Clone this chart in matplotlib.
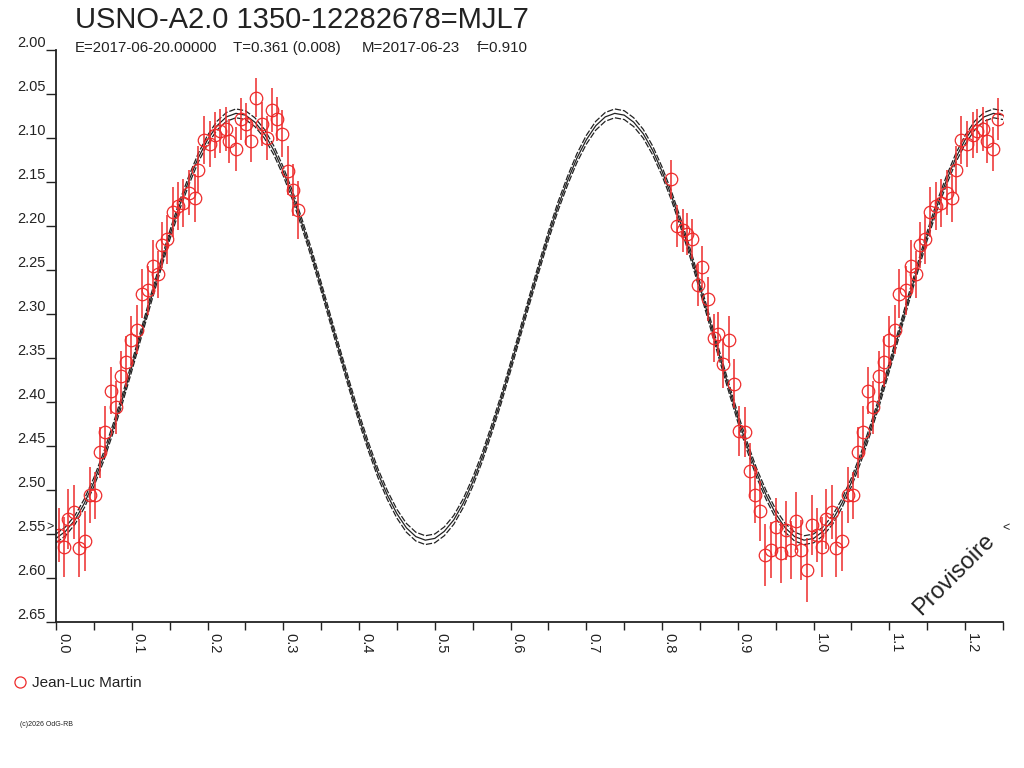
import numpy as np
import matplotlib
matplotlib.use("Agg")
import matplotlib.pyplot as plt
from matplotlib.lines import Line2D

plt.rcParams['font.family'] = ['Liberation Sans', 'DejaVu Sans']

# photometrie (phase, magnitude, erreur)
phase = [0.004, 0.011, 0.016, 0.024, 0.030, 0.038, 0.045, 0.052, 0.058, 0.065,
         0.072, 0.079, 0.086, 0.093, 0.099, 0.107, 0.113, 0.122, 0.128, 0.135,
         0.140, 0.147, 0.154, 0.161, 0.168, 0.176, 0.183, 0.188, 0.195, 0.203,
         0.210, 0.216, 0.224, 0.229, 0.237, 0.244, 0.251, 0.257, 0.264, 0.272,
         0.278, 0.285, 0.292, 0.298, 0.306, 0.313, 0.320,
         0.812, 0.820, 0.827, 0.833, 0.840, 0.847, 0.853, 0.861, 0.868, 0.874,
         0.881, 0.888, 0.895, 0.902, 0.909, 0.916, 0.922, 0.929, 0.936, 0.944,
         0.950, 0.957, 0.963, 0.970, 0.977, 0.984, 0.991, 0.998]
mag = [2.551, 2.565, 2.533, 2.525, 2.566, 2.558, 2.506, 2.506, 2.457, 2.434,
       2.387, 2.406, 2.371, 2.354, 2.330, 2.318, 2.277, 2.273, 2.246, 2.255,
       2.222, 2.215, 2.184, 2.177, 2.174, 2.162, 2.168, 2.136, 2.102, 2.107,
       2.097, 2.092, 2.090, 2.103, 2.112, 2.078, 2.084, 2.103, 2.054, 2.084,
       2.100, 2.068, 2.078, 2.095, 2.137, 2.159, 2.182,
       2.147, 2.200, 2.205, 2.209, 2.215, 2.267, 2.247, 2.283, 2.327, 2.323,
       2.357, 2.329, 2.379, 2.433, 2.434, 2.478, 2.506, 2.524, 2.574, 2.568,
       2.542, 2.572, 2.546, 2.568, 2.535, 2.568, 2.591, 2.540]
err = [0.031, 0.034, 0.034, 0.031, 0.033, 0.034, 0.032, 0.027, 0.029, 0.029,
       0.027, 0.030, 0.029, 0.029, 0.028, 0.028, 0.028, 0.028, 0.030, 0.027,
       0.026, 0.028, 0.028, 0.027, 0.027, 0.026, 0.027, 0.027, 0.027, 0.026,
       0.026, 0.025, 0.025, 0.025, 0.025, 0.024, 0.024, 0.024, 0.022, 0.025,
       0.025, 0.025, 0.025, 0.027, 0.028, 0.030, 0.033,
       0.022, 0.024, 0.024, 0.024, 0.023, 0.024, 0.024, 0.025, 0.027, 0.025,
       0.027, 0.027, 0.028, 0.028, 0.028, 0.031, 0.032, 0.034, 0.035, 0.032,
       0.033, 0.034, 0.034, 0.033, 0.033, 0.034, 0.036, 0.034]

# courbe ajustee, lue tous les 0.0125 en phase
courbe_phase = [0.0000, 0.0125, 0.0250, 0.0375, 0.0500, 0.0625, 0.0750, 0.0875, 0.1000, 0.1125,
                0.1250, 0.1375, 0.1500, 0.1625, 0.1750, 0.1875, 0.2000, 0.2125, 0.2250, 0.2375,
                0.2500, 0.2625, 0.2750, 0.2875, 0.3000, 0.3125, 0.3250, 0.3375, 0.3500, 0.3625,
                0.3750, 0.3875, 0.4000, 0.4125, 0.4250, 0.4375, 0.4500, 0.4625, 0.4750, 0.4875,
                0.5000, 0.5125, 0.5250, 0.5375, 0.5500, 0.5625, 0.5750, 0.5875, 0.6000, 0.6125,
                0.6250, 0.6375, 0.6500, 0.6625, 0.6750, 0.6875, 0.7000, 0.7125, 0.7250, 0.7375,
                0.7500, 0.7625, 0.7750, 0.7875, 0.8000, 0.8125, 0.8250, 0.8375, 0.8500, 0.8625,
                0.8750, 0.8875, 0.9000, 0.9125, 0.9250, 0.9375, 0.9500, 0.9625, 0.9750, 0.9875,
                1.0000, 1.0125, 1.0250, 1.0375, 1.0500, 1.0625, 1.0750, 1.0875, 1.1000, 1.1125,
                1.1250, 1.1375, 1.1500, 1.1625, 1.1750, 1.1875, 1.2000, 1.2125, 1.2250, 1.2375,
                1.2500]
courbe_mag = [2.555, 2.547, 2.534, 2.515, 2.491, 2.463, 2.431, 2.397, 2.360, 2.322,
              2.284, 2.247, 2.211, 2.178, 2.149, 2.123, 2.102, 2.086, 2.076, 2.072,
              2.074, 2.082, 2.095, 2.114, 2.138, 2.166, 2.198, 2.232, 2.269, 2.307,
              2.345, 2.382, 2.418, 2.451, 2.481, 2.506, 2.527, 2.543, 2.553, 2.557,
              2.555, 2.547, 2.534, 2.515, 2.491, 2.463, 2.431, 2.397, 2.360, 2.322,
              2.284, 2.247, 2.211, 2.178, 2.149, 2.123, 2.102, 2.086, 2.076, 2.072,
              2.074, 2.082, 2.095, 2.114, 2.138, 2.166, 2.198, 2.232, 2.269, 2.307,
              2.345, 2.382, 2.418, 2.451, 2.481, 2.506, 2.527, 2.543, 2.553, 2.557,
              2.555, 2.547, 2.534, 2.515, 2.491, 2.463, 2.431, 2.397, 2.360, 2.322,
              2.284, 2.247, 2.211, 2.178, 2.149, 2.123, 2.102, 2.086, 2.076, 2.072,
              2.074]
courbe_sigma = 0.005

rouge = '#ee2b2b'
gris = '#222222'

fig = plt.figure(figsize=(10.24, 7.68), dpi=100)
ax = fig.add_axes([56/1024, 1-622/768, (1003-56)/1024, (622-50)/768])

cp = np.array(courbe_phase)
cm = np.array(courbe_mag)
ax.plot(cp, cm, color=gris, lw=0.9)
ax.plot(cp, cm - courbe_sigma, color=gris, lw=0.9, ls=(0, (5, 1.5)))
ax.plot(cp, cm + courbe_sigma, color=gris, lw=0.9, ls=(0, (5, 1.5)))

ph = np.array(phase)
mg = np.array(mag)
er = np.array(err)
m2 = ph + 1 <= 1.25
ph_all = np.concatenate([ph, ph[m2] + 1])
mg_all = np.concatenate([mg, mg[m2]])
er_all = np.concatenate([er, er[m2]])
ax.errorbar(ph_all, mg_all, yerr=er_all, fmt='o', mfc='none', mec=rouge,
            ecolor=rouge, elinewidth=1.1, capsize=0, ms=9, mew=0.9)

ax.set_xlim(0, 1.25)
ax.set_ylim(2.65, 2.00)
for s in ['top', 'right']:
    ax.spines[s].set_visible(False)
for s in ['left', 'bottom']:
    ax.spines[s].set_linewidth(1.3)
    ax.spines[s].set_color(gris)

yt = np.arange(2.00, 2.651, 0.05)
ax.set_yticks(yt)
ax.set_yticklabels(["%.2f" % v for v in yt])
ax.tick_params(axis='y', direction='out', length=7, width=1, pad=0.5,
               labelsize=10.5, colors=gris)
for lbl in ax.get_yticklabels():
    lbl.set_verticalalignment('bottom')

xt = np.arange(0, 1.2501, 0.1)
ax.set_xticks(xt)
ax.set_xticklabels(["%.1f" % v for v in xt], rotation=-90, ha='left', va='top')
ax.set_xticks(np.arange(0.05, 1.2501, 0.1), minor=True)
ax.tick_params(axis='x', which='both', direction='out', length=6, width=1,
               pad=2, labelsize=10.5, colors=gris)

ax.text(-0.003, 2.542, '>', ha='right', va='center', fontsize=9, color=gris, clip_on=False)
ax.text(1.254, 2.543, '<', ha='center', va='center', fontsize=9, color=gris, clip_on=False)
ax.text(1.1855, 2.596, 'Provisoire', rotation=45, ha='center', va='center',
        fontsize=17, color=gris)

fig.text(75/1024, 1-20/768, 'USNO-A2.0 1350-12282678=MJL7', fontsize=21,
         va='center', color=gris)
# sous-titre en 4 morceaux
sous_titre = ['E=2017-06-20.00000', 'T=0.361 (0.008)', 'M=2017-06-23', 'f=0.910']
sous_x = [75, 233, 362, 477]
for t, xx in zip(sous_titre, sous_x):
    fig.text(xx/1024, 1-48/768, t, fontsize=10.8, va='center', color=gris)

h = Line2D([], [], marker='o', ls='none', mfc='none', mec=rouge, ms=8, mew=0.9)
fig.legend([h], ['Jean-Luc Martin'], loc='center left',
           bbox_to_anchor=(14/1024, 1-683/768), frameon=False, fontsize=11,
           handlelength=0.8, handletextpad=0.4, borderpad=0, borderaxespad=0,
           labelcolor=gris)

fig.text(20/1024, 1-725/768, '(c)2026 OdG-RB', fontsize=5, va='center', color=gris)

fig.savefig('out.png', dpi=100)
